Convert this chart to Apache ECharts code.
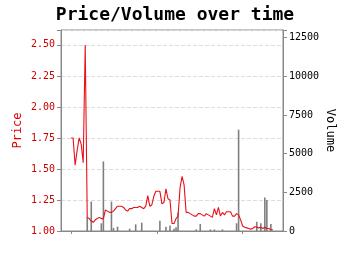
<!DOCTYPE html>
<html>
<head>
<meta charset="utf-8">
<script src="https://cdn.jsdelivr.net/npm/echarts@6/dist/echarts.min.js"></script>
<style>html,body{margin:0;padding:0;background:#fff}#c{width:350px;height:255px}</style>
</head>
<body>
<div id="c"></div>
<script>
const price = [1.75,1.75,1.53,1.65,1.75,1.70,1.55,2.50,1.11,1.10,
1.08,1.07,1.09,1.10,1.11,1.10,1.10,1.17,1.16,1.15,
1.15,1.16,1.18,1.20,1.20,1.20,1.19,1.17,1.16,1.18,
1.18,1.19,1.19,1.19,1.20,1.19,1.18,1.20,1.285,1.20,
1.21,1.28,1.32,1.32,1.32,1.22,1.23,1.34,1.26,1.25,
1.06,1.06,1.10,1.12,1.35,1.44,1.37,1.15,1.15,1.14,
1.13,1.12,1.12,1.14,1.14,1.13,1.12,1.14,1.13,1.12,
1.11,1.18,1.13,1.19,1.12,1.15,1.13,1.155,1.155,1.155,
1.12,1.12,1.14,1.13,1.09,1.04,1.03,1.025,1.02,1.015,
1.02,1.035,1.03,1.025,1.03,1.02,1.03,1.02,1.02,1.01,1.01];
const volume = [0,0,0,0,0,0,0,0,900,0,
1900,0,0,0,0,500,4500,0,0,0,
1900,200,0,280,0,0,0,0,0,150,
0,0,430,0,0,540,0,0,0,0,
0,0,0,0,670,0,0,280,0,350,
0,150,250,1200,0,0,0,0,0,0,
0,0,100,0,450,0,0,0,0,100,
0,100,0,0,0,100,0,0,0,0,
0,0,500,6550,0,0,0,0,0,0,
0,0,600,0,500,0,2160,2010,0,450,0];
const xTicks = [0, 42.5, 85];
const priceTicks = [1.00,1.25,1.50,1.75,2.00,2.25,2.50];
const volumeTicks = [0,2500,5000,7500,10000,12500];

const font = 'DejaVu Sans Mono';
const chart = echarts.init(document.getElementById('c'), null, {renderer:'canvas'});
chart.setOption({
  animation:false,
  title:{text:'Price/Volume over time',left:'center',top:1,
    textStyle:{fontFamily:font,fontWeight:'bold',fontSize:18,color:'#000'}},
  grid:{left:61,right:67,top:30,bottom:24,show:true,borderColor:'#888',borderWidth:1,
    outerBoundsMode:'none',containLabel:false},
  xAxis:{type:'value',min:-5,max:105,
    axisLine:{show:true,onZero:false,lineStyle:{color:'#888'}},
    axisTick:{show:true,customValues:xTicks,length:3,lineStyle:{color:'#888'}},
    axisLabel:{show:false},splitLine:{show:false}},
  yAxis:[
    {type:'value',min:1,max:2.62,interval:0.25,position:'left',
     name:'Price',nameLocation:'middle',nameGap:37,nameMoveOverlap:false,
     nameTextStyle:{color:'#e00000',fontFamily:font,fontSize:12},
     axisLine:{show:true,onZero:false,lineStyle:{color:'#888'}},
     axisTick:{show:true,length:4,lineStyle:{color:'#888'}},
     axisLabel:{color:'#cc0000',fontFamily:font,fontSize:10,margin:6,
       formatter:v=>priceTicks.some(t=>Math.abs(t-v)<1e-6)?v.toFixed(2):''},
     splitLine:{show:true,lineStyle:{color:'#ddd',type:'dashed'}}},
    {type:'value',min:0,max:13000,interval:2500,position:'right',
     name:'Volume',nameLocation:'middle',nameGap:41,nameRotate:-90,nameMoveOverlap:false,
     nameTextStyle:{color:'#000',fontFamily:font,fontSize:12},
     axisLine:{show:true,onZero:false,lineStyle:{color:'#888'}},
     axisTick:{show:true,length:4,lineStyle:{color:'#888'}},
     axisLabel:{color:'#000',fontFamily:font,fontSize:10,margin:6,
       formatter:v=>volumeTicks.includes(v)?String(v):''},
     splitLine:{show:false}}
  ],
  series:[
    {type:'bar',yAxisIndex:1,barWidth:1.6,z:2,
     itemStyle:{color:'#7f7f7f'},
     data:volume.map((v,i)=>[i,v])},
    {type:'line',yAxisIndex:0,z:3,symbol:'none',
     lineStyle:{color:'#e8101a',width:1.1},
     data:price.map((v,i)=>[i,v])}
  ]
});
</script>
</body>
</html>
